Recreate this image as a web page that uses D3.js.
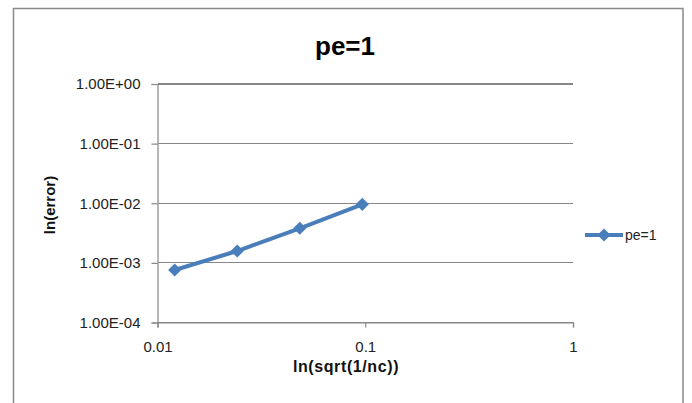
<!DOCTYPE html>
<html><head><meta charset="utf-8">
<script src="https://cdn.jsdelivr.net/npm/d3@7"></script>
<style>
html,body{margin:0;padding:0;background:#fff;}
svg{display:block;font-family:"Liberation Sans",Arial,sans-serif;}
</style></head>
<body><svg id="c" width="692" height="403"></svg>
<script>
const title = "pe=1";
const seriesName = "pe=1";
const xValues = [0.0121, 0.0242, 0.0484, 0.0968];
const yValues = [0.00076, 0.00158, 0.0038, 0.0096];
const xTicks = [0.01, 0.1, 1];
const yTicks = [1, 0.1, 0.01, 0.001, 0.0001];
const xTitle = "ln(sqrt(1/nc))";
const yTitle = "ln(error)";

const svg = d3.select("#c");
const L = 157.5, R = 573, T = 84, B = 322.5;
const x = d3.scaleLog().domain([0.01, 1]).range([L, R]);
const y = d3.scaleLog().domain([0.0001, 1]).range([B, T]);
const grid = "#878787", blue = "#4A7EBB";

// outer border
svg.append("rect").attr("x", 13.5).attr("y", 8.5).attr("width", 669.5).attr("height", 420)
  .attr("fill", "none").attr("stroke", "#8a8a8a").attr("stroke-width", 1.5);

// title
svg.append("text").attr("x", 345).attr("y", 55).attr("text-anchor", "middle")
  .attr("font-size", 26).attr("font-weight", "bold").attr("fill", "#000").text(title);

// gridlines
svg.append("g").selectAll("line").data(yTicks).join("line")
  .attr("x1", L).attr("x2", R).attr("y1", d => y(d)).attr("y2", d => y(d))
  .attr("stroke", grid).attr("stroke-width", 1.2).attr("shape-rendering", "crispEdges");

const fmtY = d => {
  const e = Math.round(Math.log10(d));
  const s = e < 0 ? "-" : "+";
  return "1.00E" + s + String(Math.abs(e)).padStart(2, "0");
};

// y axis
const yAxis = d3.axisLeft(y).tickValues(yTicks).tickFormat(fmtY).tickSize(6).tickPadding(11);
const gy = svg.append("g").attr("transform", `translate(${L},0)`).call(yAxis);
gy.select(".domain").attr("stroke", grid).attr("stroke-width", 1.2);
gy.selectAll(".tick line").attr("stroke", grid).attr("stroke-width", 1.2);
gy.selectAll(".tick text").attr("font-size", 15).attr("fill", "#222").attr("font-family", "Liberation Sans, Arial, sans-serif");

// x axis
const xAxis = d3.axisBottom(x).tickValues(xTicks).tickFormat(d => String(d)).tickSize(5).tickPadding(14);
const gx = svg.append("g").attr("transform", `translate(0,${B})`).call(xAxis);
gx.select(".domain").attr("stroke", grid).attr("stroke-width", 1.2);
gx.selectAll(".tick line").attr("stroke", grid).attr("stroke-width", 1.2);
gx.selectAll(".tick text").attr("font-size", 15).attr("fill", "#222").attr("font-family", "Liberation Sans, Arial, sans-serif");

// axis titles
svg.append("text").attr("x", 346).attr("y", 372).attr("text-anchor", "middle")
  .attr("font-size", 16).attr("letter-spacing", 0.6).attr("font-weight", "bold").attr("fill", "#111").text(xTitle);
svg.append("text").attr("transform", "translate(55,205) rotate(-90)").attr("text-anchor", "middle")
  .attr("font-size", 15).attr("font-weight", "bold").attr("fill", "#111").text(yTitle);

// series
const pts = xValues.map((v, i) => [v, yValues[i]]);
svg.append("path").datum(pts)
  .attr("d", d3.line().x(d => x(d[0])).y(d => y(d[1])))
  .attr("fill", "none").attr("stroke", blue).attr("stroke-width", 4).attr("stroke-linejoin", "round");
const diamond = d3.symbol().type(d3.symbolDiamond2).size(110);
svg.append("g").selectAll("path").data(pts).join("path")
  .attr("transform", d => `translate(${x(d[0])},${y(d[1])})`)
  .attr("d", diamond).attr("fill", blue);

// legend
const lg = svg.append("g").attr("transform", "translate(585,235)");
lg.append("line").attr("x1", 0).attr("x2", 38).attr("stroke", blue).attr("stroke-width", 4);
lg.append("path").attr("transform", "translate(19,0)").attr("d", diamond).attr("fill", blue);
lg.append("text").attr("x", 40).attr("y", 5).attr("font-size", 14).attr("fill", "#222").text(seriesName);
</script></body></html>
